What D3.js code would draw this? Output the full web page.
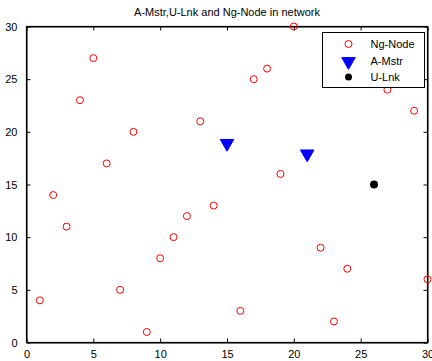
<!DOCTYPE html>
<html>
<head>
<meta charset="utf-8">
<script src="https://cdn.jsdelivr.net/npm/d3@7"></script>
<style>
  body { margin: 0; background: #fff; }
  svg { font-family: Arial, "Liberation Sans", sans-serif; }
</style>
</head>
<body>
<script>
// data
var ngX = [1, 2, 3, 4, 5, 6, 7, 8, 9, 10, 11, 12, 13, 14, 16, 17, 18, 19, 20, 22, 23, 24, 27, 29, 30]
var ngY = [4, 14, 11, 23, 27, 17, 5, 20, 1, 8, 10, 12, 21, 13, 3, 25, 26, 16, 30, 9, 2, 7, 24, 22, 6]
var mstrX = [15, 21]
var mstrY = [19, 18]
var lnkX = [26]
var lnkY = [15]
var xTicks = [0, 5, 10, 15, 20, 25, 30]
var yTicks = [0, 5, 10, 15, 20, 25, 30]
var legendLabels = ['Ng-Node', 'A-Mstr', 'U-Lnk']

var W = 432, H = 361
var m = {left: 26.5, right: 4.5, top: 26.5, bottom: 18.5}

var svg = d3.select('body').append('svg')
  .attr('width', W).attr('height', H)

var x = d3.scaleLinear().domain([0, 30]).range([m.left, W - m.right])
var y = d3.scaleLinear().domain([0, 30]).range([H - m.bottom, m.top])

svg.append('text')
  .attr('x', (m.left + W - m.right) / 2).attr('y', 16)
  .attr('text-anchor', 'middle')
  .style('font-size', '11px')
  .text('A-Mstr,U-Lnk and Ng-Node in network')

// axes, ticks pointing inward on all four sides
var tl = 4
svg.append('g').attr('transform', `translate(0,${H - m.bottom})`)
  .call(d3.axisBottom(x).tickValues(xTicks).tickSizeInner(-tl).tickSizeOuter(0).tickPadding(8))
svg.append('g').attr('transform', `translate(0,${m.top})`)
  .call(d3.axisTop(x).tickValues(xTicks).tickSizeInner(-tl).tickSizeOuter(0).tickFormat(''))
svg.append('g').attr('transform', `translate(${m.left},0)`)
  .call(d3.axisLeft(y).tickValues(yTicks).tickSizeInner(-tl).tickSizeOuter(0).tickPadding(9))
svg.append('g').attr('transform', `translate(${W - m.right},0)`)
  .call(d3.axisRight(y).tickValues(yTicks).tickSizeInner(-tl).tickSizeOuter(0).tickFormat(''))

svg.selectAll('.tick text').style('font-size', '11px').attr('fill', '#000')
svg.selectAll('.domain, .tick line').attr('stroke', '#000')

svg.append('rect')
  .attr('x', m.left).attr('y', m.top)
  .attr('width', W - m.right - m.left).attr('height', H - m.bottom - m.top)
  .attr('fill', 'none').attr('stroke', '#000').attr('stroke-width', 1.2)

var tri = d3.symbol().type(d3.symbolTriangle).size(80)

svg.append('g').selectAll('circle')
  .data(d3.zip(ngX, ngY))
  .join('circle')
  .attr('cx', d => x(d[0])).attr('cy', d => y(d[1]))
  .attr('r', 3.5)
  .attr('fill', 'none').attr('stroke', '#f00').attr('stroke-width', 1)

svg.append('g').selectAll('path')
  .data(d3.zip(mstrX, mstrY))
  .join('path')
  .attr('d', tri)
  .attr('transform', d => `translate(${x(d[0])},${y(d[1]) + 1}) rotate(180)`)
  .attr('fill', '#00f').attr('stroke', '#00f')

svg.append('g').selectAll('circle')
  .data(d3.zip(lnkX, lnkY))
  .join('circle')
  .attr('cx', d => x(d[0])).attr('cy', d => y(d[1]))
  .attr('r', 4)
  .attr('fill', '#000')

// legend
var lg = svg.append('g').attr('transform', 'translate(322.5,32.5)')
lg.append('rect').attr('width', 102).attr('height', 55)
  .attr('fill', '#fff').attr('stroke', '#000')

var rows = lg.selectAll('g.row').data(legendLabels)
  .join('g').attr('class', 'row')
  .attr('transform', (d, i) => `translate(0,${11.5 + i * 16.5})`)

rows.append('text')
  .attr('x', 48).attr('y', 4)
  .style('font-size', '11px')
  .text(d => d)

rows.each(function(d, i){
  var g = d3.select(this)
  if (i == 0) g.append('circle').attr('cx', 26).attr('r', 3.5)
    .attr('fill', 'none').attr('stroke', '#f00')
  if (i == 1) g.append('path').attr('d', tri)
    .attr('transform', 'translate(26,1) rotate(180)')
    .attr('fill', '#00f').attr('stroke', '#00f')
  if (i == 2) g.append('circle').attr('cx', 26).attr('r', 3.5).attr('fill', '#000')
})
</script>
</body>
</html>
